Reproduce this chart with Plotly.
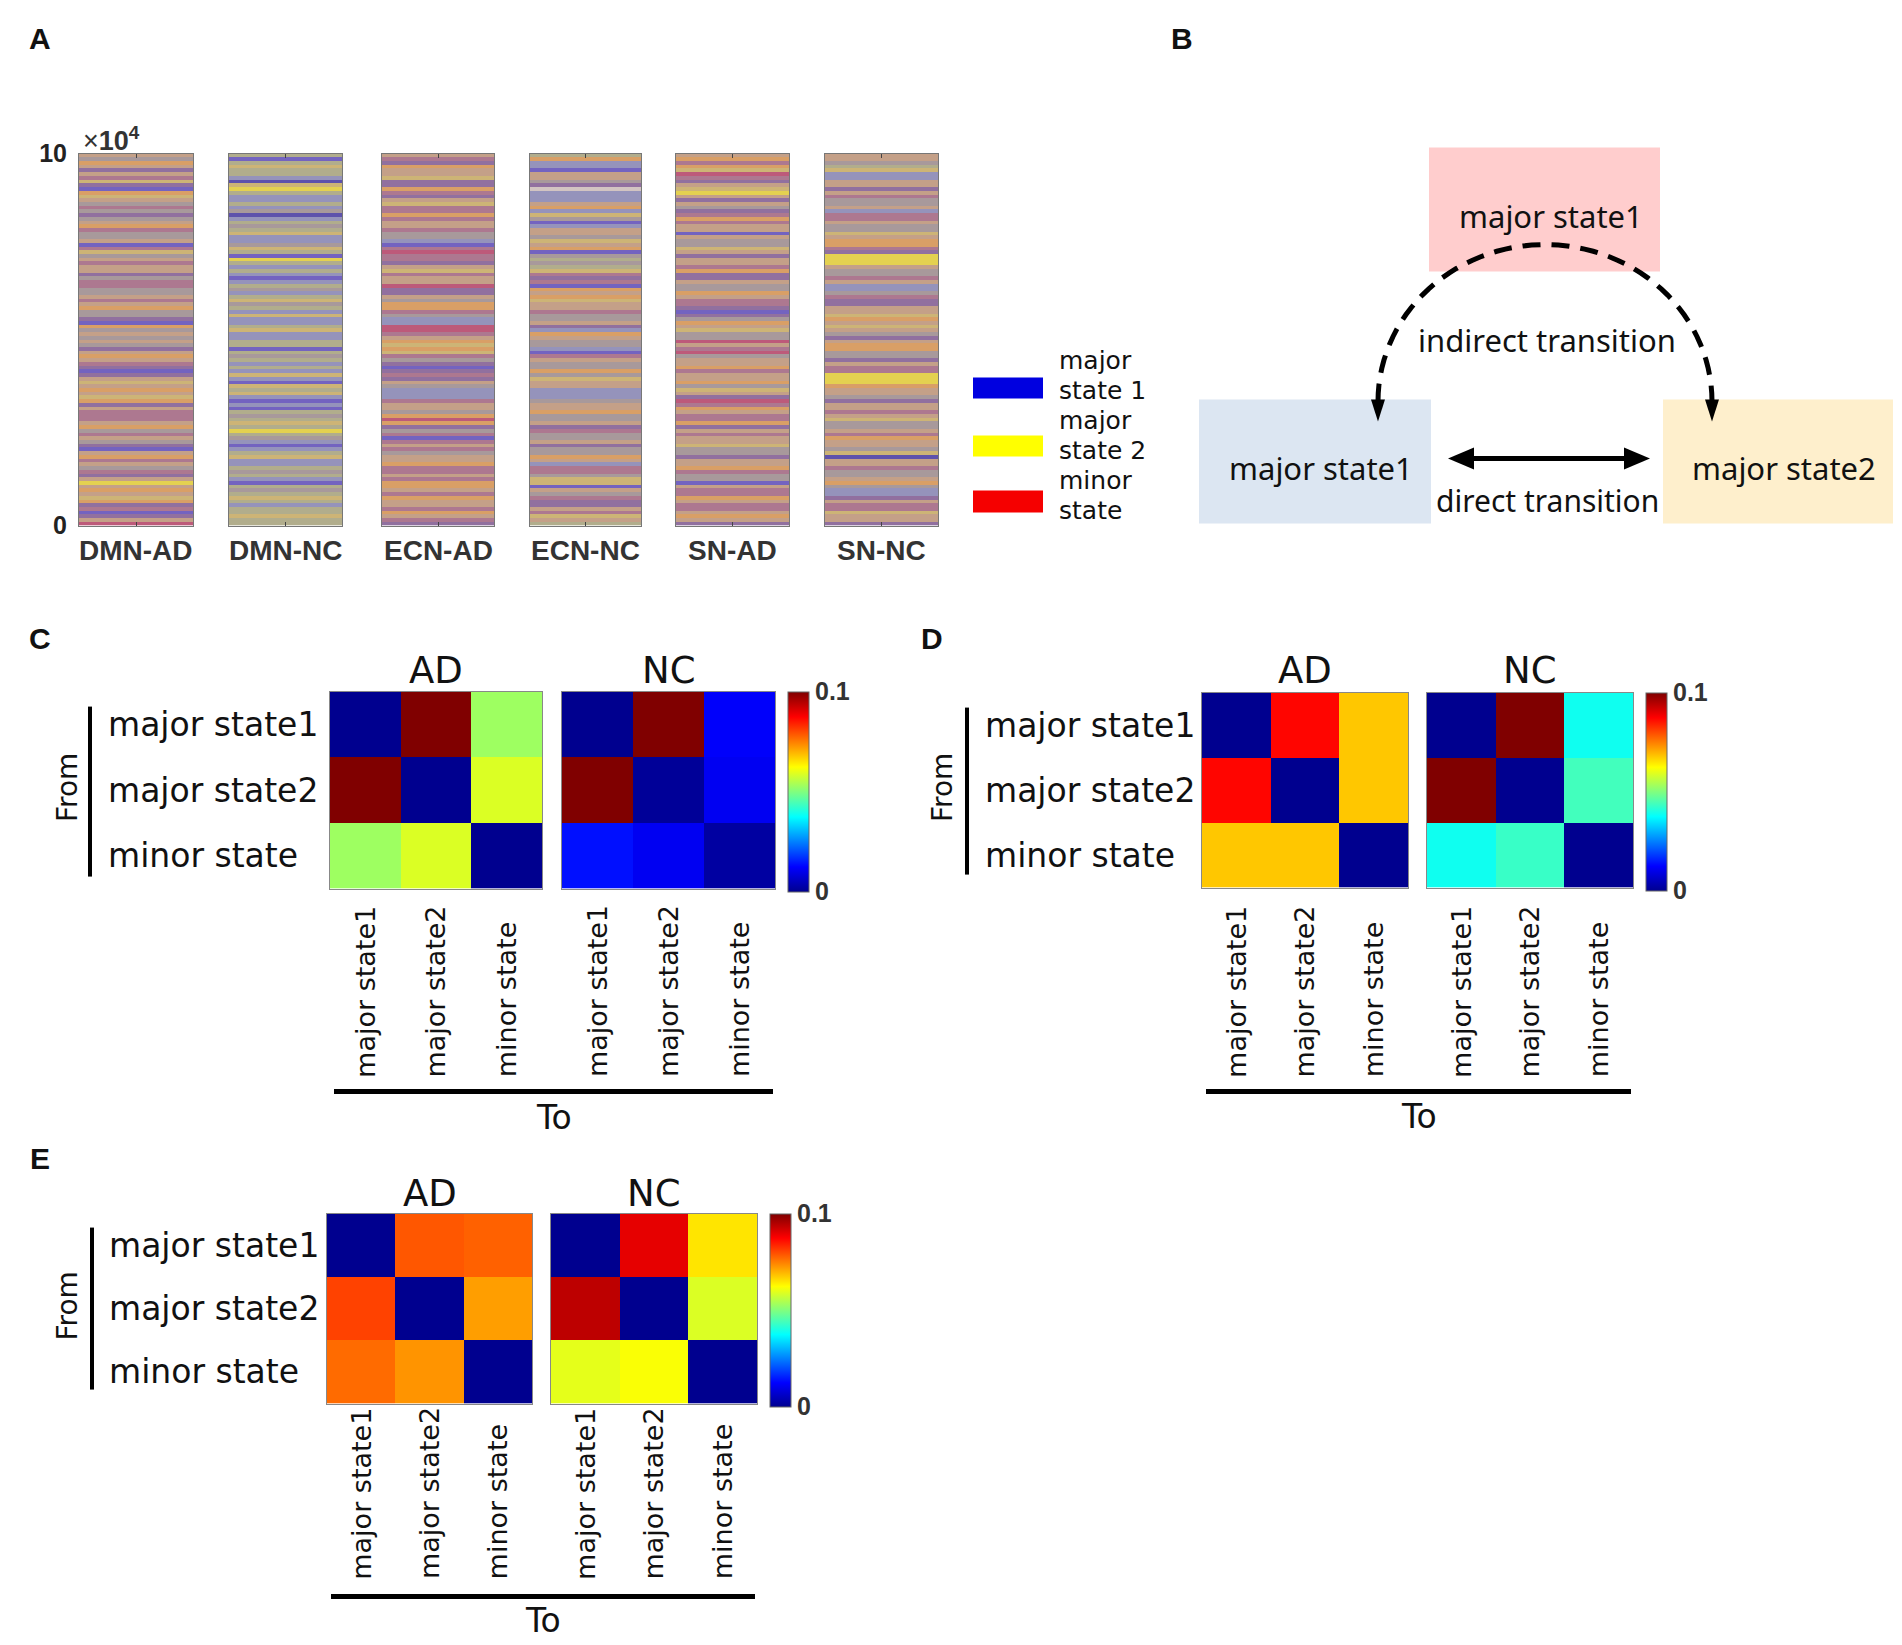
import numpy as np
import plotly.graph_objects as go

W, H = 1902, 1645
# page placement correction (figure sits slightly offset in the captured page)
def fx(x): return (x - 8) / W
def fy(y): return 1 - ((y - 20.4) / 0.983) / H

# ---------------- Panel A data: state sequences (top -> bottom), blended colours ----------------
networks = ["DMN-AD", "DMN-NC", "ECN-AD", "ECN-NC", "SN-AD", "SN-NC"]
dmn_ad = ("tgotptmypB" "oytgmgpgto" "mggtBmygtm" "ttpgmmggtm" "toggpBogtg"
          "tgptotmpBp" "tytotyoptm" "mmtogmtgpB" "tomtgmptYt" "otyopmBptr")
dmn_nc = ("kBkykkldyY" "kllklgdlkg" "kyllgykBYk" "lklBlkglky" "gklyllkyll"
          "kkBkgklkly" "lBykylBlBk" "gkykYkglBl" "kyllkgklBk" "gkyklkkykk")
ecn_ad = ("tmpottyppo" "mptymmomtt" "mgglBmrmmp" "tymttrpptg" "oomgllrrmt"
          "oyoymgpBpm" "ptglllmttg" "oropgmBmtm" "gttommtmoo" "tmottmotmp")
ecn_nc = ("kollBttgpw" "llltolygBl" "ttgytoBgkg" "kympmBotoy" "ttmggtplot"
          "gglBmtggog" "yttlllgtto" "ggtpmggtpg" "gotlmmgyyB" "tgmpptmytk")
sn_ad = ("tomoyrmpty" "Ytptgpmomt" "tBtggytptt" "mopptggotm" "mpBpgotygg"
         "rtmrgttomt" "togytprmot" "mmoptmttyg" "gpttomggBt" "mmotmmtotp")
sn_nc = ("ttgkyllttp" "tmggtlmmtg" "gytoompYYY" "tggmtllgmp" "pttyotytgp"
         "tooggptmmY" "YYottgpttm" "tyggtmottg" "ydttmggtog" "llptmmyttp")
state_seqs = [dmn_ad, dmn_nc, ecn_ad, ecn_nc, sn_ad, sn_nc]
blend_codes = ["g", "t", "o", "y", "Y", "m", "r", "p", "B", "l", "k", "d", "w"]
blend_colors = ["#a8999b", "#c4a088", "#d99f66", "#cdb476", "#e4d150", "#ad7890", "#bd5a7a",
                "#91709f", "#7363c0", "#9593bb", "#b1ad8c", "#5e52ac", "#d2c4c2"]
time_max = 100000
a_ytick_vals = [0, 100000]
a_ytick_text = ["<b>0</b>", "<b>10</b>"]
legend_labels = [("major", "state 1"), ("major", "state 2"), ("minor", "state")]
legend_colors = ["#0000e0", "#ffff00", "#f50000"]

# ---------------- Panels C, D, E: transition probabilities ----------------
states = ["major state1", "major state2", "minor state"]
groups = ["AD", "NC"]
C_AD = [[0.000, 0.100, 0.053], [0.100, 0.000, 0.059], [0.053, 0.059, 0.000]]
C_NC = [[0.000, 0.100, 0.012], [0.100, 0.001, 0.011], [0.014, 0.011, 0.002]]
D_AD = [[0.000, 0.087, 0.068], [0.087, 0.000, 0.068], [0.068, 0.068, 0.000]]
D_NC = [[0.000, 0.100, 0.039], [0.100, 0.000, 0.044], [0.039, 0.043, 0.000]]
E_AD = [[0.000, 0.079, 0.078], [0.081, 0.000, 0.072], [0.077, 0.073, 0.000]]
E_NC = [[0.000, 0.090, 0.065], [0.094, 0.000, 0.059], [0.060, 0.062, 0.000]]
cb_ticks = [0, 0.1]
cb_text = ["<b>0</b>", "<b>0.1</b>"]

jet = [[0, "rgb(0,0,143)"], [0.125, "rgb(0,0,255)"], [0.375, "rgb(0,255,255)"],
       [0.625, "rgb(255,255,0)"], [0.875, "rgb(255,0,0)"], [1, "rgb(128,0,0)"]]

SANS = "DejaVu Sans"
NOTO = "Noto Sans"
ARIAL = "Liberation Sans"

fig = go.Figure()
layout = dict(width=W, height=H, margin=dict(l=0, r=0, t=0, b=0),
              paper_bgcolor="white", plot_bgcolor="white", showlegend=False)
annotations = []
shapes = []

def ann(**kw):
    d = dict(xref="paper", yref="paper", showarrow=False, xanchor="center", yanchor="middle")
    d.update(kw)
    annotations.append(d)

def poly(pts, color="black"):
    path = "M " + " L ".join(f"{fx(a):.5f},{fy(b):.5f}" for a, b in pts) + " Z"
    shapes.append(dict(type="path", xref="paper", yref="paper", path=path,
                       fillcolor=color, line=dict(width=0)))

def sfx(k):
    return "" if k == 1 else str(k)

# ---- Panel A ----
a_cols = [(79, 193), (229, 342), (382, 494), (530, 641), (676, 789), (825, 938)]
a_top, a_bot = 152, 524
ncodes = len(blend_codes)
disc = []
for i, c in enumerate(blend_colors):
    disc += [[i / ncodes, c], [(i + 1) / ncodes, c]]
for k, seq in enumerate(state_seqs):
    ax = k + 1
    n = len(seq)
    step = time_max / n
    yv = [time_max - (i + 0.5) * step for i in range(n)]
    zv = [[blend_codes.index(ch)] for ch in seq]
    fig.add_trace(go.Heatmap(z=zv, x=[0], y=yv, colorscale=disc, zmin=-0.5, zmax=ncodes - 0.5,
                             showscale=False, hoverinfo="skip",
                             xaxis=f"x{sfx(ax)}", yaxis=f"y{sfx(ax)}"))
    x0, x1 = a_cols[k]
    layout["xaxis" + sfx(ax)] = dict(domain=[fx(x0), fx(x1)], anchor=f"y{sfx(ax)}",
                                     range=[-0.5, 0.5], tickvals=[0], showticklabels=False,
                                     ticks="inside", ticklen=4, tickcolor="#444", showline=True,
                                     linecolor="#777", linewidth=1, mirror="ticks",
                                     showgrid=False, zeroline=False)
    yd = dict(domain=[fy(a_bot), fy(a_top)], anchor=f"x{sfx(ax)}", range=[0, time_max],
              showline=True, linecolor="#777", linewidth=1, mirror=True, showgrid=False,
              zeroline=False, ticks="")
    if k == 0:
        yd.update(tickvals=a_ytick_vals, ticktext=a_ytick_text,
                  tickfont=dict(family=ARIAL, size=25, color="#222"), ticklabelstandoff=6)
    else:
        yd.update(showticklabels=False)
    layout["yaxis" + sfx(ax)] = yd
    ann(x=fx((x0 + x1) / 2), y=fy(549), text=f"<b>{networks[k]}</b>",
        font=dict(family=ARIAL, size=28, color="#333"))
ann(x=fx(81), y=fy(137), text="×<b>10<sup>4</sup></b>", xanchor="left",
    font=dict(family=ARIAL, size=27, color="#333"))

# Legend of panel A
leg_y = [(376, 397), (434, 455), (489, 511)]
leg_txt_y = [(359, 389), (419, 449), (479, 509)]
for (t0, t1), col, (l1, l2), (ty1, ty2) in zip(leg_y, legend_colors, legend_labels, leg_txt_y):
    shapes.append(dict(type="rect", xref="paper", yref="paper", x0=fx(973), x1=fx(1043),
                       y0=fy(t1), y1=fy(t0), fillcolor=col, line=dict(width=0)))
    for txt, yy in [(l1, ty1), (l2, ty2)]:
        ann(x=fx(1058), y=fy(yy), text=txt, xanchor="left", borderpad=0,
            font=dict(family=SANS, size=25, color="#111"))

# ---- Panel B (diagram) ----
boxes = [((1429, 146, 1660, 270), "#ffcdcd", "major state1", (1551, 214)),
         ((1199, 398, 1431, 522), "#dce6f2", "major state1", (1321, 466)),
         ((1663, 398, 1893, 522), "#feefcc", "major state2", (1784, 466))]
for (x0, y0, x1, y1), col, txt, (tx, ty) in boxes:
    shapes.append(dict(type="rect", xref="paper", yref="paper", x0=fx(x0), x1=fx(x1),
                       y0=fy(y1), y1=fy(y0), fillcolor=col, line=dict(width=0), layer="below"))
    ann(x=fx(tx), y=fy(ty), text=txt, font=dict(family=NOTO, size=31, color="#111"))
# dashed arc (indirect transition) with arrowheads at both ends
cx, cy, rx, ry = 1545, 400, 167, 157
th = np.linspace(np.pi, 0, 60)
px_ = cx + rx * np.cos(th)
py_ = cy - ry * np.sin(th)
path = "M " + " L ".join(f"{fx(a):.5f},{fy(b):.5f}" for a, b in zip(px_, py_))
shapes.append(dict(type="path", xref="paper", yref="paper", path=path,
                   line=dict(color="black", width=5, dash="18px,11px")))
for ex in [cx - rx, cx + rx]:
    poly([(ex - 7, 398), (ex + 7, 398), (ex, 420)])
# solid double arrow (direct transition)
shapes.append(dict(type="line", xref="paper", yref="paper", x0=fx(1470), x1=fx(1628),
                   y0=fy(457), y1=fy(457), line=dict(color="black", width=5)))
poly([(1448, 457), (1474, 446), (1474, 468)])
poly([(1650, 457), (1624, 446), (1624, 468)])
ann(x=fx(1547), y=fy(338), text="indirect transition", font=dict(family=NOTO, size=31, color="#111"))
ann(x=fx(1547), y=fy(499), text="direct transition", font=dict(family=NOTO, size=30, color="#111"))

# ---- Panels C, D, E ----
panels = [
    dict(mats=(C_AD, C_NC), ad=(330, 542), nc=(562, 775), top=690, bot=887, cb=788,
         row_x=106, brk_x=90, brk=(705, 875), from_x=67, title_y=669, lab_bot=1078,
         to_y=1090, to_txt=1116),
    dict(mats=(D_AD, D_NC), ad=(1202, 1408), nc=(1427, 1633), top=691, bot=886, cb=1646,
         row_x=983, brk_x=967, brk=(706, 873), from_x=942, title_y=669, lab_bot=1078,
         to_y=1090, to_txt=1115),
    dict(mats=(E_AD, E_NC), ad=(327, 532), nc=(551, 757), top=1212, bot=1402, cb=770,
         row_x=107, brk_x=92, brk=(1226, 1388), from_x=68, title_y=1192, lab_bot=1580,
         to_y=1595, to_txt=1619),
]
ax = 7
for p in panels:
    top, bot = p["top"], p["bot"]
    rowh = (bot - top) / 3
    for gi, (mat, (x0, x1)) in enumerate(zip(p["mats"], (p["ad"], p["nc"]))):
        tr = dict(z=mat, x=[0, 1, 2], y=[0, 1, 2], colorscale=jet, zmin=0, zmax=0.1,
                  hoverinfo="skip", xaxis=f"x{ax}", yaxis=f"y{ax}", showscale=(gi == 1))
        if gi == 1:
            tr["colorbar"] = dict(x=fx(p["cb"]), xanchor="left", y=fy(top), yanchor="top",
                                  len=(bot - top) / 0.983, lenmode="pixels", thickness=21,
                                  thicknessmode="pixels", xpad=0, ypad=0, outlinewidth=1,
                                  outlinecolor="#666", tickvals=cb_ticks, ticktext=cb_text,
                                  ticks="", tickfont=dict(family=ARIAL, size=25, color="#333"))
        fig.add_trace(go.Heatmap(**tr))
        layout[f"xaxis{ax}"] = dict(domain=[fx(x0), fx(x1)], anchor=f"y{ax}", range=[-0.5, 2.5],
                                    showticklabels=False, ticks="", showline=True, linecolor="#888",
                                    linewidth=1, mirror=True, showgrid=False, zeroline=False)
        layout[f"yaxis{ax}"] = dict(domain=[fy(bot), fy(top)], anchor=f"x{ax}", range=[2.5, -0.5],
                                    showticklabels=False, ticks="", showline=True, linecolor="#888",
                                    linewidth=1, mirror=True, showgrid=False, zeroline=False)
        ann(x=fx((x0 + x1) / 2), y=fy(p["title_y"]), text=groups[gi],
            font=dict(family=SANS, size=37, color="#111"))
        cw = (x1 - x0) / 3
        for ci, s in enumerate(states):
            ann(x=fx(x0 + cw * (ci + 0.5)), y=fy(p["lab_bot"]), text=s, textangle=-90,
                yanchor="bottom", font=dict(family=SANS, size=27, color="#111"))
        ax += 1
    for ri, s in enumerate(states):
        ann(x=fx(p["row_x"]), y=fy(top + rowh * (ri + 0.5)), text=s, xanchor="left",
            font=dict(family=SANS, size=33, color="#111"))
    shapes.append(dict(type="line", xref="paper", yref="paper", x0=fx(p["brk_x"]), x1=fx(p["brk_x"]),
                       y0=fy(p["brk"][0]), y1=fy(p["brk"][1]), line=dict(color="black", width=4)))
    ann(x=fx(p["from_x"]), y=fy((top + bot) / 2 - 2), text="From", textangle=-90,
        font=dict(family=SANS, size=28, color="#111"))
    lx0 = p["ad"][0] + 4
    lx1 = p["nc"][1] - 2
    shapes.append(dict(type="line", xref="paper", yref="paper", x0=fx(lx0), x1=fx(lx1),
                       y0=fy(p["to_y"]), y1=fy(p["to_y"]), line=dict(color="black", width=5)))
    ann(x=fx((lx0 + lx1) / 2), y=fy(p["to_txt"]), text="To", font=dict(family=SANS, size=33, color="#111"))

# panel letters
for lt, (x, y) in zip("ABCDE", [(40, 37), (1182, 37), (40, 637), (932, 637), (40, 1157)]):
    ann(x=fx(x), y=fy(y), text=f"<b>{lt}</b>", font=dict(family=ARIAL, size=30, color="#111"))

layout["annotations"] = annotations
layout["shapes"] = shapes
fig.update_layout(**layout)
fig.write_html("out.html")
